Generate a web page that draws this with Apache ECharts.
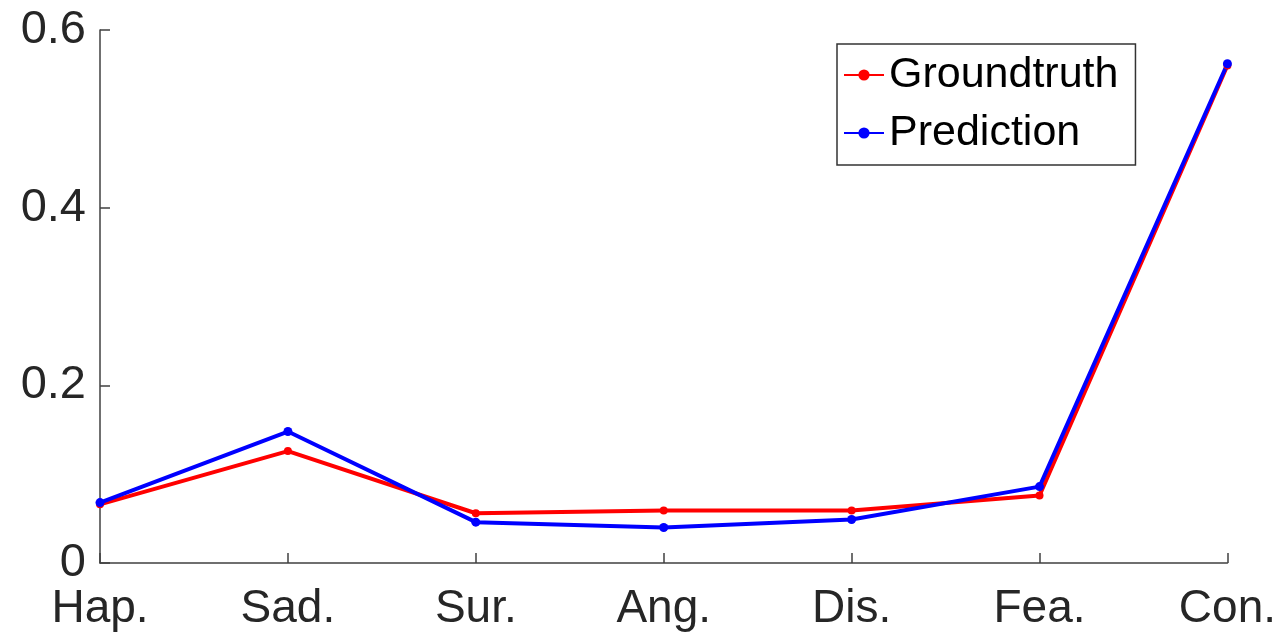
<!DOCTYPE html>
<html>
<head>
<meta charset="utf-8">
<script src="https://cdn.jsdelivr.net/npm/echarts@6/dist/echarts.min.js"></script>
<style>
html,body{margin:0;padding:0;background:#fff;}
#main{width:1279px;height:637px;}
</style>
</head>
<body>
<div id="main"></div>
<script>
const categories = ['Hap.', 'Sad.', 'Sur.', 'Ang.', 'Dis.', 'Fea.', 'Con.'];
const groundtruth = [0.066, 0.126, 0.056, 0.059, 0.059, 0.076, 0.560];
const prediction = [0.068, 0.148, 0.046, 0.040, 0.049, 0.086, 0.562];
const yTicks = [0, 0.2, 0.4, 0.6];

const chart = echarts.init(document.getElementById('main'), null, {renderer: 'canvas'});
const axisColor = '#404040';
const labelColor = '#262626';
const fontFamily = 'Liberation Sans';

chart.setOption({
  animation: false,
  backgroundColor: '#fff',
  grid: {left: 100, right: 49, top: 30, bottom: 74, containLabel: false},
  legend: {
    orient: 'vertical',
    left: 837,
    top: 44,
    itemWidth: 40,
    itemHeight: 14,
    itemGap: 12,
    padding: [8, 17, 9, 6],
    borderColor: '#333',
    borderWidth: 1.5,
    backgroundColor: '#fff',
    textStyle: {fontSize: 43, color: '#000', fontFamily: fontFamily, lineHeight: 46},
    data: ['Groundtruth', 'Prediction']
  },
  xAxis: {
    type: 'category',
    data: categories,
    boundaryGap: false,
    axisLine: {lineStyle: {color: axisColor, width: 1.5}},
    axisTick: {inside: true, length: 10, lineStyle: {color: axisColor, width: 1.5}},
    axisLabel: {fontSize: 46, color: labelColor, fontFamily: fontFamily, margin: 23, showMaxLabel: true, showMinLabel: true, interval: 0},
    splitLine: {show: false}
  },
  yAxis: {
    type: 'value',
    min: 0,
    max: 0.6,
    interval: 0.2,
    axisLine: {show: true, lineStyle: {color: axisColor, width: 1.5}},
    axisTick: {show: true, inside: true, length: 10, lineStyle: {color: axisColor, width: 1.5}},
    axisLabel: {
      fontSize: 47, color: labelColor, fontFamily: fontFamily, margin: 14,
      formatter: function (v) {
        const t = yTicks.find(x => Math.abs(x - v) < 1e-9);
        return t === undefined ? '' : (t === 0 ? '0' : String(t));
      }
    },
    splitLine: {show: false}
  },
  series: [
    {
      name: 'Groundtruth',
      type: 'line',
      data: groundtruth,
      color: '#ff0000',
      symbol: 'circle',
      symbolSize: 8,
      lineStyle: {width: 4, color: '#ff0000'},
      itemStyle: {color: '#ff0000'}
    },
    {
      name: 'Prediction',
      type: 'line',
      data: prediction,
      color: '#0000ff',
      symbol: 'circle',
      symbolSize: 9,
      lineStyle: {width: 4, color: '#0000ff'},
      itemStyle: {color: '#0000ff'}
    }
  ]
});
</script>
</body>
</html>
